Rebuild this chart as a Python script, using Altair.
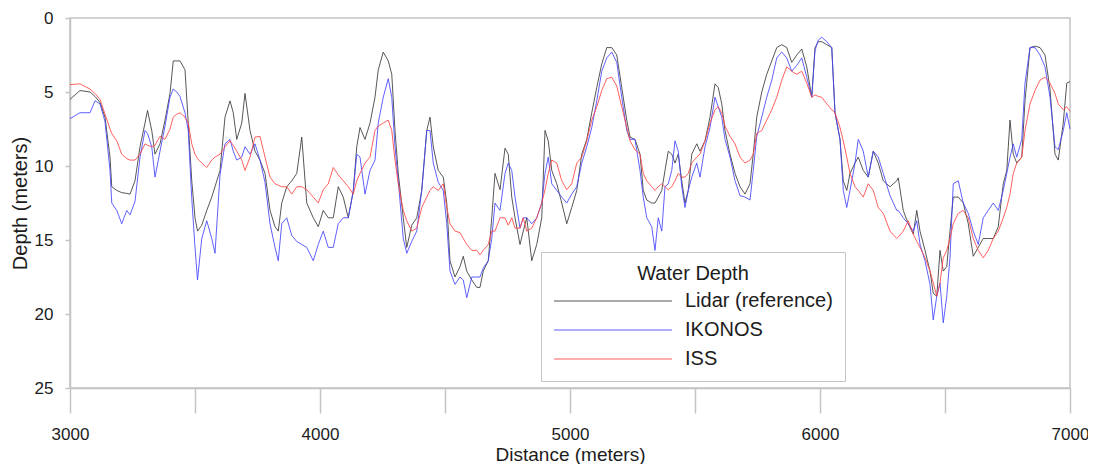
import altair as alt
import pandas as pd

# ---- data ----
distance = [3000, 3040, 3080, 3100, 3120, 3140, 3160, 3167, 3187, 3207, 3227, 3240, 3260, 3280, 3300,
            3310, 3327, 3340, 3360, 3380, 3400, 3413, 3427, 3440, 3460, 3473, 3487, 3500, 3510, 3527,
            3547, 3567, 3580, 3600, 3620, 3640, 3653, 3667, 3687, 3700, 3720, 3740, 3760, 3780, 3800,
            3820, 3833, 3847, 3867, 3887, 3907, 3927, 3947, 3973, 3993, 4013, 4033, 4053, 4073, 4093,
            4113, 4133, 4147, 4160, 4180, 4200, 4220, 4233, 4253, 4273, 4287, 4300, 4313, 4333, 4347,
            4367, 4387, 4407, 4427, 4440, 4453, 4473, 4493, 4507, 4520, 4540, 4560, 4573, 4587, 4607,
            4627, 4640, 4653, 4673, 4687, 4700, 4720, 4740, 4753, 4767, 4780, 4800, 4813, 4827, 4847,
            4867, 4887, 4900, 4913, 4927, 4947, 4967, 4987, 5007, 5027, 5047, 5067, 5087, 5107, 5127,
            5147, 5167, 5187, 5207, 5227, 5240, 5260, 5280, 5293, 5307, 5327, 5340, 5353, 5367, 5380,
            5393, 5407, 5420, 5433, 5447, 5460, 5473, 5487, 5507, 5520, 5540, 5560, 5580, 5593, 5607,
            5620, 5640, 5660, 5680, 5700, 5720, 5733, 5747, 5767, 5787, 5807, 5827, 5847, 5867, 5887,
            5907, 5927, 5947, 5967, 5980, 5993, 6007, 6027, 6047, 6060, 6080, 6093, 6107, 6120, 6140,
            6153, 6173, 6193, 6213, 6233, 6253, 6280, 6307, 6313, 6333, 6353, 6373, 6387, 6400, 6420,
            6440, 6453, 6467, 6480, 6493, 6507, 6520, 6533, 6553, 6573, 6593, 6613, 6633, 6653, 6673,
            6693, 6713, 6733, 6747, 6760, 6773, 6787, 6807, 6820, 6840, 6860, 6880, 6900, 6920, 6940,
            6953, 6973, 6987, 7000]

lidar = [5.5, 4.9, 5.0, 5.3, 5.7, 6.7, 9.4, 11.4, 11.65, 11.8, 11.85, 11.9, 11.0, 8.7, 7.1,
         6.25, 7.6, 9.2, 8.5, 6.9, 5.1, 2.9, 2.9, 2.9, 3.5, 7.1, 11.0, 13.5, 14.4, 14.0,
         13.0, 12.1, 11.4, 10.3, 6.7, 5.6, 6.4, 8.2, 7.1, 5.1, 7.6, 9.0, 9.6, 10.5, 13.0,
         14.1, 14.4, 12.5, 11.4, 11.0, 10.5, 8.05, 12.5, 13.5, 14.1, 13.0, 13.5, 13.5, 11.4, 12.1,
         13.5, 11.7, 8.7, 7.4, 8.2, 7.1, 5.35, 3.5, 2.3, 2.9, 3.8, 7.6, 10.5, 13.5, 15.5,
         14.0, 13.5, 11.65, 7.6, 6.7, 8.7, 10.3, 10.75, 12.5, 16.4, 17.5, 16.8, 16.1, 17.1, 17.7,
         18.2, 18.2, 17.1, 16.4, 13.5, 10.5, 11.6, 8.8, 9.2, 12.1, 13.5, 15.3, 14.4, 13.5, 16.4,
         15.3, 13.5, 7.6, 8.3, 10.3, 11.2, 12.5, 13.9, 12.8, 11.65, 9.2, 8.2, 6.4, 4.7, 3.1,
         2.0, 2.0, 2.5, 4.7, 6.9, 8.05, 8.2, 9.2, 11.65, 12.3, 12.5, 12.5, 12.1, 11.65, 10.3,
         9.0, 9.2, 9.8, 9.2, 11.0, 12.5, 11.65, 9.2, 8.5, 9.0, 8.3, 6.7, 4.45, 4.7, 5.8,
         7.6, 9.2, 10.5, 11.4, 11.9, 11.2, 9.2, 6.7, 5.0, 3.8, 2.9, 2.0, 1.8, 2.0, 3.0,
         2.5, 2.1, 3.3, 5.35, 2.0, 1.6, 1.6, 1.8, 2.0, 6.4, 8.2, 11.0, 11.65, 10.5, 9.8,
         9.4, 10.3, 10.75, 9.0, 9.8, 11.0, 11.4, 11.0, 10.8, 13.0, 13.9, 14.6, 13.0, 14.4, 15.7,
         17.1, 18.6, 18.8, 15.7, 17.1, 16.8, 14.4, 12.1, 12.1, 12.5, 13.9, 16.1, 15.5, 14.9, 14.9,
         14.9, 14.1, 11.2, 10.3, 6.9, 9.2, 9.8, 9.4, 5.6, 2.0, 1.9, 2.0, 2.5, 4.8, 9.2,
         9.6, 7.1, 4.4, 4.3]

ikonos = [6.8, 6.4, 6.4, 5.6, 5.8, 7.0, 10.3, 12.5, 13.0, 13.9, 13.0, 13.3, 12.4, 9.4, 7.6,
          7.8, 8.7, 10.75, 9.0, 7.3, 5.35, 4.8, 5.0, 5.3, 6.4, 7.6, 12.2, 15.5, 17.7, 14.9,
          13.7, 14.9, 15.9, 10.6, 8.5, 8.2, 9.0, 9.6, 9.4, 8.7, 9.2, 8.5, 9.6, 11.1, 13.9,
          15.5, 16.4, 13.9, 13.5, 14.7, 15.1, 15.3, 15.5, 16.4, 15.3, 14.4, 15.5, 15.5, 13.9, 13.5,
          13.5, 11.7, 9.2, 9.4, 11.9, 10.3, 9.6, 7.1, 5.35, 4.1, 5.35, 8.7, 11.0, 14.9, 15.9,
          15.1, 14.4, 11.65, 7.6, 7.6, 9.8, 11.1, 11.65, 13.9, 17.1, 18.0, 17.5, 17.7, 18.9, 17.5,
          17.5, 17.5, 16.9, 16.4, 14.9, 12.5, 13.0, 10.5, 9.8, 10.3, 12.1, 14.2, 13.5, 13.5, 13.9,
          13.5, 12.5, 10.5, 9.4, 11.2, 11.65, 12.1, 12.5, 11.9, 11.4, 9.8, 8.7, 7.4, 5.6, 3.6,
          2.7, 2.3, 3.0, 5.35, 7.6, 8.2, 8.2, 10.3, 12.1, 13.5, 14.1, 15.7, 13.5, 14.4, 11.4,
          11.2, 10.3, 8.3, 9.0, 11.4, 12.8, 11.65, 10.75, 9.8, 10.75, 8.7, 7.4, 5.35, 6.0, 6.7,
          8.2, 9.4, 11.0, 12.0, 12.1, 12.3, 10.3, 8.0, 6.7, 5.35, 4.2, 2.7, 2.3, 2.7, 3.6,
          3.2, 2.7, 4.0, 5.35, 2.2, 1.5, 1.3, 1.6, 2.0, 6.4, 8.2, 11.65, 12.8, 11.65, 9.8,
          8.2, 9.0, 10.75, 9.0, 9.4, 10.5, 12.0, 13.0, 13.0, 13.5, 13.9, 14.4, 13.7, 15.3, 16.4,
          18.0, 20.4, 18.8, 17.9, 20.6, 18.8, 16.2, 11.2, 11.0, 12.5, 13.2, 14.4, 15.3, 13.5, 13.0,
          12.5, 13.0, 11.65, 10.5, 9.4, 8.5, 9.4, 8.2, 4.4, 2.0, 2.0, 2.5, 3.3, 5.35, 8.7,
          8.9, 7.6, 6.4, 7.5]

iss = [4.5, 4.45, 4.8, 5.1, 5.5, 6.5, 7.5, 7.8, 8.3, 9.2, 9.5, 9.6, 9.6, 9.2, 8.5,
       8.6, 8.7, 8.6, 8.0, 8.2, 7.5, 6.7, 6.5, 6.4, 6.7, 7.1, 8.5, 9.2, 9.5, 9.8,
       10.1, 9.6, 9.4, 9.2, 8.7, 8.3, 8.6, 9.0, 9.6, 10.3, 9.4, 8.05, 8.0, 9.4, 10.75,
       11.2, 11.3, 11.4, 11.4, 11.9, 11.4, 11.4, 11.6, 12.1, 12.5, 11.6, 11.2, 10.1, 10.6, 11.0,
       11.4, 11.9, 11.0, 10.5, 9.8, 9.4, 7.6, 7.3, 7.1, 6.9, 7.6, 9.6, 11.2, 13.0, 13.7,
       14.4, 14.2, 12.8, 12.1, 11.65, 11.4, 11.65, 11.2, 12.8, 13.9, 14.4, 14.5, 14.9, 15.3, 15.7,
       15.7, 16.0, 15.7, 15.3, 14.4, 14.4, 13.5, 13.5, 14.0, 13.5, 14.2, 14.2, 13.5, 14.4, 14.2,
       13.5, 12.5, 11.6, 10.5, 9.6, 9.8, 11.0, 11.6, 11.2, 9.8, 9.4, 8.3, 6.9, 6.0, 4.9,
       4.1, 4.0, 4.6, 6.0, 7.4, 8.3, 8.9, 9.2, 10.5, 11.0, 11.4, 11.65, 11.4, 11.2, 11.4,
       11.6, 11.4, 11.0, 10.5, 10.75, 10.75, 10.5, 9.8, 9.4, 9.2, 8.3, 7.1, 6.2, 6.0, 6.4,
       7.3, 8.0, 8.5, 9.4, 9.8, 9.6, 9.2, 7.8, 7.6, 6.9, 6.2, 5.35, 4.2, 3.3, 3.6,
       3.8, 3.6, 4.4, 5.35, 5.2, 5.3, 5.35, 5.8, 6.2, 6.4, 7.4, 8.3, 9.4, 10.5, 11.4,
       11.65, 12.1, 11.2, 11.65, 12.8, 13.2, 14.4, 14.9, 14.8, 14.4, 13.7, 14.6, 15.1, 15.5, 16.2,
       17.1, 17.9, 18.8, 17.9, 16.2, 15.7, 14.9, 13.9, 13.2, 13.0, 13.5, 14.9, 15.7, 16.2, 15.7,
       14.9, 14.4, 13.5, 12.8, 11.9, 10.5, 9.8, 9.4, 7.6, 5.8, 4.9, 4.2, 4.0, 4.4, 5.1,
       5.8, 6.2, 6.0, 6.3]

series_names = ["Lidar (reference)", "IKONOS", "ISS"]
series_colors = ["#3a3a3a", "#4444ff", "#ff4444"]
x_tick_values = [3000, 3500, 4000, 4500, 5000, 5500, 6000, 6500, 7000]
y_tick_values = [0, 5, 10, 15, 20, 25]

rows = []
for order, (name, values) in enumerate(zip(series_names, [lidar, ikonos, iss])):
    for d, v in zip(distance, values):
        rows.append({"Distance": d, "Depth": v, "Series": name, "k": order})
df = pd.DataFrame(rows)

FONT = "Liberation Sans"
TEXT = "#1c1c1c"
FRAME = "#c4c4c4"

chart = alt.Chart(df).mark_line(strokeWidth=1, opacity=0.85).encode(
    x=alt.X("Distance:Q",
            scale=alt.Scale(domain=[3000, 7000], nice=False, zero=False),
            axis=alt.Axis(title="Distance (meters)", values=x_tick_values, format="d",
                          labelExpr="datum.value % 1000 == 0 ? datum.label : ''",
                          tickSize=25, grid=False, labelFontSize=17, labelBaseline="middle",
                          labelPadding=21, titleFontSize=19, titleBaseline="bottom",
                          titleY=76, labelFlush=False)),
    y=alt.Y("Depth:Q",
            scale=alt.Scale(domain=[0, 25], reverse=True, nice=False, zero=False),
            axis=alt.Axis(title="Depth (meters)", values=y_tick_values, tickSize=5,
                          grid=False, labelFontSize=17, labelPadding=12,
                          titleFontSize=20, titleX=-40, titleY=185)),
    color=alt.Color("Series:N",
                    scale=alt.Scale(domain=series_names, range=series_colors),
                    legend=alt.Legend(title="Water Depth", orient="none",
                                      legendX=471, legendY=234, direction="vertical",
                                      symbolType="M-1,0H10.8", symbolSize=400,
                                      symbolStrokeWidth=1.2, labelOffset=110,
                                      labelFontSize=20, titleFontSize=20,
                                      titleFontWeight="normal", titleAnchor="middle",
                                      titlePadding=6, rowPadding=8, padding=12,
                                      strokeColor=FRAME, fillColor="white",
                                      labelFont=FONT, titleFont=FONT,
                                      labelColor=TEXT, titleColor=TEXT)),
    order=alt.Order("k:Q"),
    detail="Series:N",
).properties(
    width=1000,
    height=370,
    autosize=alt.AutoSizeParams(type="none"),
    padding={"left": 62, "top": 10, "right": 18, "bottom": 76},
).configure_axis(
    domainColor=FRAME, domainWidth=1.5, tickColor=FRAME, tickWidth=1.5,
    labelColor=TEXT, titleColor=TEXT, labelFont=FONT, titleFont=FONT,
    titleFontWeight="normal",
).configure_view(
    stroke=FRAME, strokeWidth=1.5,
)

chart.save("out.html", embed_options={"renderer": "svg", "actions": False})
